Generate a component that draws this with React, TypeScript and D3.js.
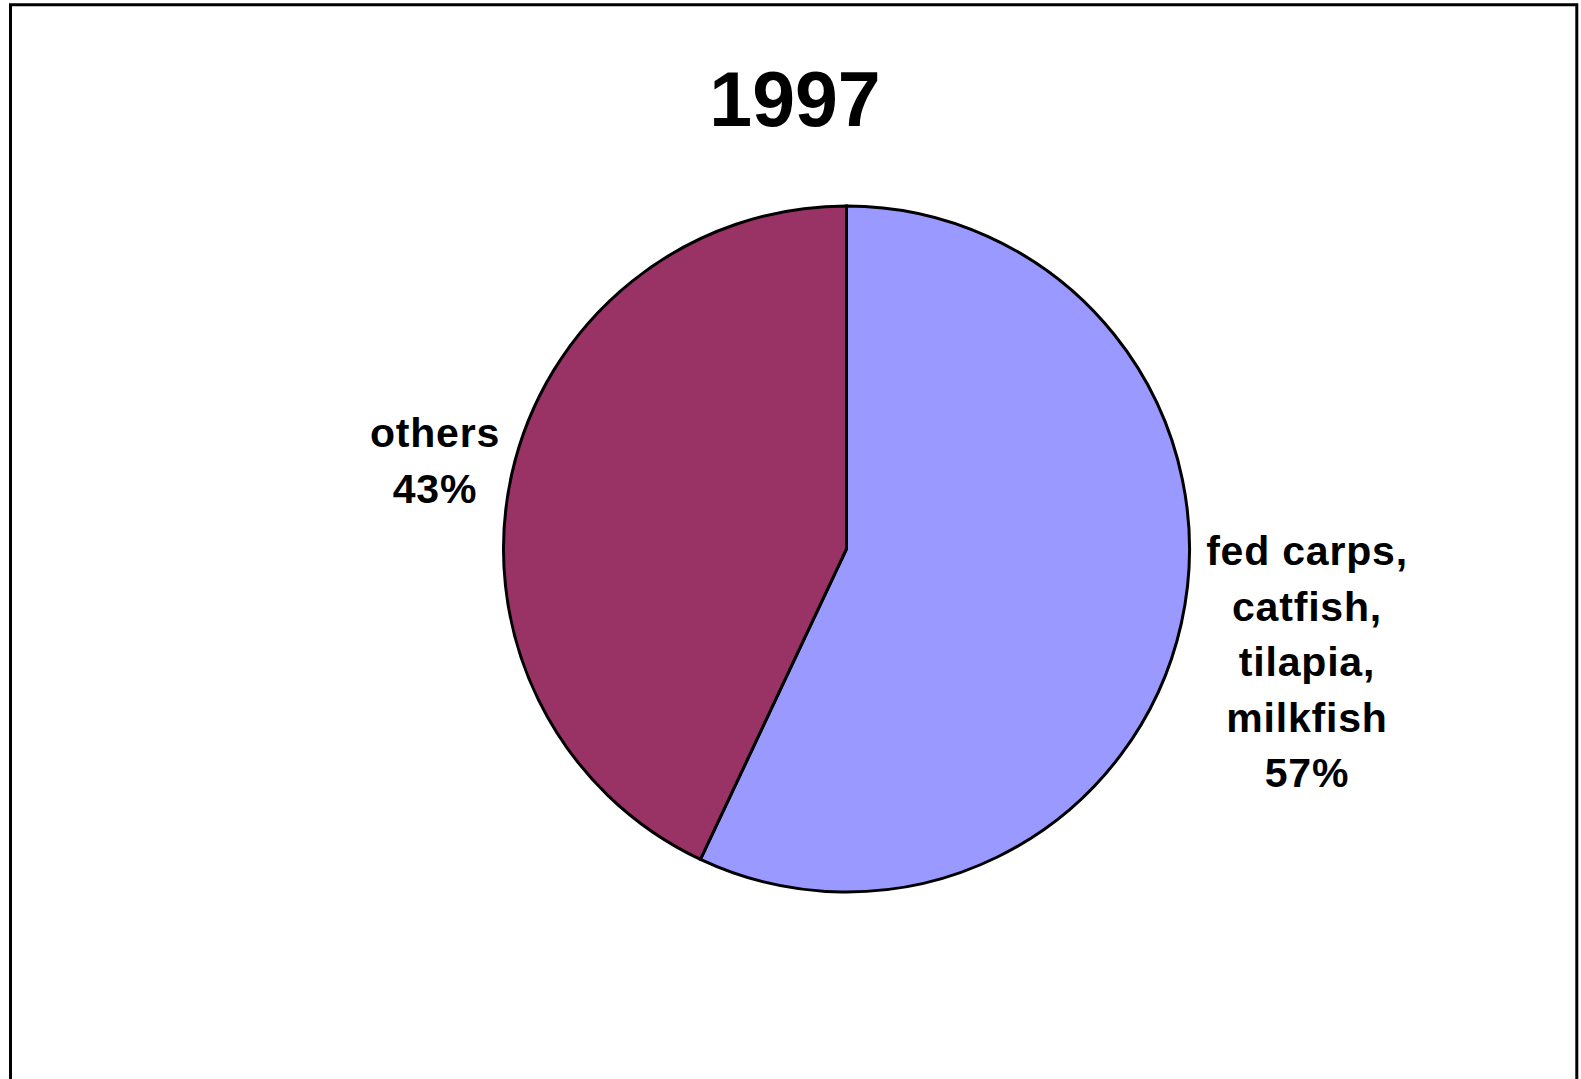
import React from "react";
import * as d3 from "d3";

const title = "1997";
const categories = ["fed carps, catfish, tilapia, milkfish", "others"];
const labelLines = [
  ["fed carps,", "catfish,", "tilapia,", "milkfish", "57%"],
  ["others", "43%"],
];
const values = [57, 43];
const colors = ["#9999FF", "#993366"];

const W = 1581;
const H = 1079;
const cx = 846.5;
const cy = 549;
const R = 343;
const labelPos = [
  { x: 1307, y: 565 },
  { x: 435, y: 447 },
];
const lineStep = 55.5;

export default function App() {
  const pie = d3.pie<number>().sort(null).value((d) => d)(values);
  const arc = d3.arc<d3.PieArcDatum<number>>().innerRadius(0).outerRadius(R);
  const font = "'Liberation Sans', Arial, Helvetica, sans-serif";
  return (
    <svg
      width={W}
      height={H}
      style={{ position: "fixed", left: 0, top: 0, background: "#fff" }}
    >
      <rect x={0} y={0} width={W} height={H} fill="#fff" />
      <path
        d={`M10.5,${H + 5} L10.5,4.8 L1576.8,4.8 L1576.8,${H + 5}`}
        fill="none"
        stroke="#000"
        strokeWidth={3}
      />
      <text
        x={795}
        y={126}
        textAnchor="middle"
        fontFamily={font}
        fontWeight="bold"
        fontSize={77}
        fill="#000"
      >
        {title}
      </text>
      <g transform={`translate(${cx},${cy})`}>
        {pie.map((d, i) => (
          <path
            key={categories[i]}
            d={arc(d) || ""}
            fill={colors[i]}
            stroke="#000"
            strokeWidth={3}
            strokeLinejoin="miter"
          />
        ))}
      </g>
      {labelLines.map((lines, i) => (
        <text
          key={categories[i]}
          textAnchor="middle"
          fontFamily={font}
          fontWeight="bold"
          fontSize={41}
          fill="#000"
          letterSpacing={0.8}
        >
          {lines.map((ln, j) => (
            <tspan key={j} x={labelPos[i].x} y={labelPos[i].y + j * lineStep}>
              {ln}
            </tspan>
          ))}
        </text>
      ))}
    </svg>
  );
}
